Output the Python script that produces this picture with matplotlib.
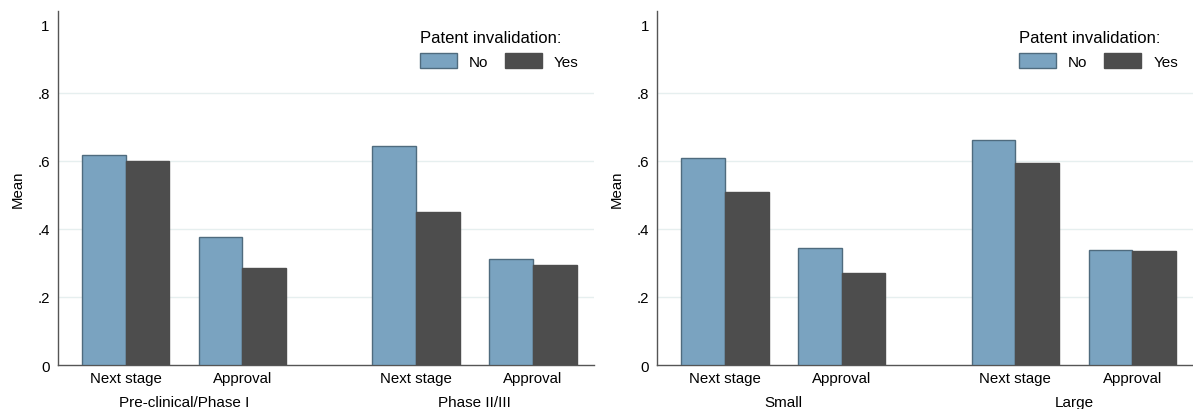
import matplotlib.pyplot as plt
import numpy as np
from matplotlib.patches import Patch
from matplotlib.transforms import blended_transform_factory

plt.rcParams['font.family'] = ['Liberation Sans', 'DejaVu Sans']

# data
stages = ["Next stage", "Approval"]
left_groups = ["Pre-clinical/Phase I", "Phase II/III"]
right_groups = ["Small", "Large"]
left_no = [0.617, 0.376, 0.643, 0.313]
left_yes = [0.599, 0.284, 0.449, 0.293]
right_no = [0.609, 0.345, 0.663, 0.339]
right_yes = [0.508, 0.270, 0.593, 0.334]
yticks = [0, 0.2, 0.4, 0.6, 0.8, 1.0]
ytick_labels = ["0", ".2", ".4", ".6", ".8", "1"]

c_no = '#7aa3c0'
c_no_edge = '#4f6b7e'
c_yes = '#4d4d4d'
axis_col = '#555555'
grid_col = '#e6efef'
fs = 10.8

# pair centres in bar-width units
centers = np.array([1.55, 4.22, 8.20, 10.88])
bw = 1.0


def draw_panel(ax, no, yes, groups):
    ax.bar(centers - bw/2, no, bw, color=c_no, edgecolor=c_no_edge, linewidth=1.0, zorder=3)
    ax.bar(centers + bw/2, yes, bw, color=c_yes, edgecolor=c_yes, linewidth=1.0, zorder=3)
    ax.set_xlim(0, 12.27)
    ax.set_ylim(0, 1.041)
    ax.set_yticks(yticks)
    ax.set_yticklabels(ytick_labels, fontsize=fs)
    for g in [0.2, 0.4, 0.6, 0.8]:
        ax.axhline(g, color=grid_col, linewidth=1.0, zorder=1)
    ax.set_xticks(centers)
    ax.set_xticklabels(stages * 2, fontsize=fs)
    ax.tick_params(axis='x', length=0, pad=4)
    ax.tick_params(axis='y', length=0, pad=6)
    for s in ['top', 'right']:
        ax.spines[s].set_visible(False)
    for s in ['left', 'bottom']:
        ax.spines[s].set_color(axis_col)
        ax.spines[s].set_linewidth(1.0)
    ax.set_ylabel("Mean", fontsize=fs, labelpad=9)
    tr = blended_transform_factory(ax.transData, ax.transAxes)
    ax.text((centers[0] + centers[1]) / 2, -0.085, groups[0], transform=tr,
            ha='center', va='top', fontsize=11)
    ax.text((centers[2] + centers[3]) / 2, -0.085, groups[1], transform=tr,
            ha='center', va='top', fontsize=11)
    handles = [Patch(facecolor=c_no, edgecolor=c_no_edge, label="No"),
               Patch(facecolor=c_yes, edgecolor=c_yes, label="Yes")]
    ax.legend(handles=handles, title="Patent invalidation:", ncol=2, frameon=False,
              loc='upper right', bbox_to_anchor=(0.972, 0.945), fontsize=11,
              title_fontsize=12, handlelength=2.4, handleheight=1.1,
              columnspacing=1.1, handletextpad=0.8, borderaxespad=0, borderpad=0,
              alignment='left')


fig = plt.figure(figsize=(11.93, 4.10), dpi=100)
ax1 = fig.add_axes([0.0486, 0.1073, 0.449, 0.8634])
ax2 = fig.add_axes([0.551, 0.1073, 0.449, 0.8634])
draw_panel(ax1, left_no, left_yes, left_groups)
draw_panel(ax2, right_no, right_yes, right_groups)

fig.savefig("out.png", dpi=100)
